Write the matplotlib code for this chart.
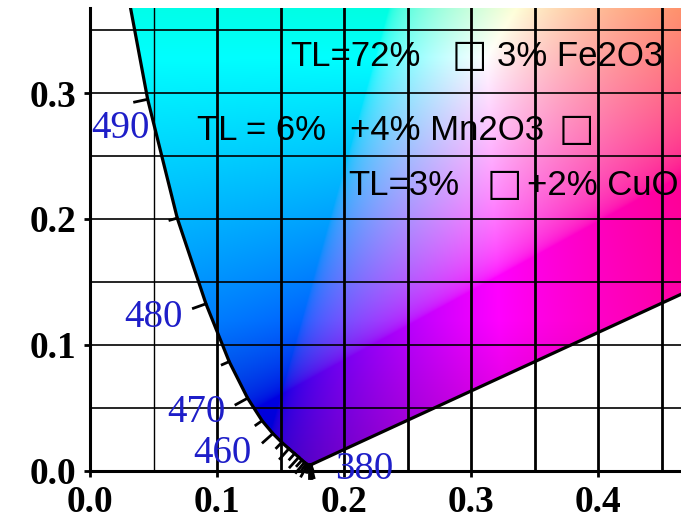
import numpy as np
import matplotlib
matplotlib.use('Agg')
import matplotlib.pyplot as plt
from matplotlib.patches import Polygon

# -----------------------------
# CIE 1931 spectral locus (x, y) read for the visible part of the chart
wavelengths = [380, 385, 390, 395, 400, 405, 410, 415, 420, 425, 430, 435,
               440, 445, 450, 455, 460, 465, 470, 475, 480, 485, 490, 495, 500]
locus_x = [0.1741, 0.1740, 0.1738, 0.1736, 0.1733, 0.1730, 0.1726, 0.1721,
           0.1714, 0.1703, 0.1689, 0.1669, 0.1644, 0.1611, 0.1566, 0.1510,
           0.1440, 0.1355, 0.1241, 0.1096, 0.0913, 0.0687, 0.0454, 0.0235, 0.0082]
locus_y = [0.0050, 0.0050, 0.0049, 0.0049, 0.0048, 0.0048, 0.0048, 0.0048,
           0.0051, 0.0058, 0.0069, 0.0086, 0.0109, 0.0138, 0.0177, 0.0227,
           0.0297, 0.0399, 0.0578, 0.0868, 0.1327, 0.2007, 0.2950, 0.4127, 0.5384]

# rest of the locus (off the top of the chart, only closes the colour area)
upper_x = [0.0039, 0.0139, 0.0743, 0.1547, 0.2296, 0.3016, 0.3731, 0.4441,
           0.5125, 0.5752, 0.6270, 0.6915, 0.7260, 0.7347]
upper_y = [0.6548, 0.7502, 0.8338, 0.8059, 0.7543, 0.6923, 0.6245, 0.5547,
           0.4866, 0.4242, 0.3725, 0.3083, 0.2740, 0.2653]

labelled_nm = [490, 480, 470, 460, 380]
label_pos = [(0.024, 0.264), (0.050, 0.114), (0.084, 0.039), (0.104, 0.006), (0.216, -0.006)]

x_ticks = [0.0, 0.1, 0.2, 0.3, 0.4]
y_ticks = [0.0, 0.1, 0.2, 0.3]

# annotation pieces: (text, x, y)
notes = [("TL=72%", 0.1575, 0.3214), ("3% Fe2O3", 0.3205, 0.3214),
         ("TL = 6%", 0.0843, 0.2627), ("+4% Mn2O3", 0.2047, 0.2627),
         ("TL=3%", 0.2031, 0.2190), ("+2% CuO", 0.3440, 0.2190)]
boxes = [(0.2984, 0.3214), (0.3827, 0.2627), (0.3260, 0.2190)]

# -----------------------------
fig = plt.figure(figsize=(6.81, 5.25), dpi=100)
ax = fig.add_axes([90/681, 54/525, 591/681, 463/525])
x_max = 591 / 1270
y_max = 463 / 1260
ax.set_xlim(0, x_max)
ax.set_ylim(0, y_max)

# colour fill of the chromaticity area
gx, gy = np.meshgrid(np.linspace(0, x_max, 600), np.linspace(0, y_max, 480))
gys = np.maximum(gy, 1e-3)
XYZ = np.stack([gx / gys, np.ones_like(gx), (1 - gx - gy) / gys], axis=-1)
M = np.array([[3.2406, -1.5372, -0.4986],
              [-0.9689, 1.8758, 0.0415],
              [0.0557, -0.2040, 1.0570]])
rgb = np.clip(XYZ @ M.T, 0, None)
rgb = rgb / rgb.max(axis=-1, keepdims=True)
rgb = np.where(rgb <= 0.0031308, 12.92 * rgb, 1.055 * rgb ** (1 / 2.4) - 0.055)
# the original gets darker towards the blue/violet bottom
shade = 0.78 + 0.22 * np.clip(gy / 0.12, 0, 1)
rgb = np.clip(rgb * shade[..., None], 0, 1)

poly_x = locus_x + upper_x
poly_y = locus_y + upper_y
clip = Polygon(np.column_stack([poly_x, poly_y]), closed=True, transform=ax.transData,
               facecolor='none', edgecolor='none')
ax.add_patch(clip)
im = ax.imshow(rgb, origin='lower', extent=[0, x_max, 0, y_max], aspect='auto',
               interpolation='bilinear', zorder=0)
im.set_clip_path(clip)

# grid every 0.05
for gxv in np.arange(0.05, x_max, 0.05):
    ax.axvline(gxv, color='black', lw=2.0 if abs(gxv - 0.05) > 1e-6 else 1.0, zorder=2)
for gyv in np.arange(0.05, y_max, 0.05):
    ax.axhline(gyv, color='black', lw=1.2, zorder=2)

# locus and purple line
ax.plot(locus_x + upper_x, locus_y + upper_y, color='black', lw=2.3, zorder=3,
        solid_capstyle='round')
ax.plot([locus_x[0], upper_x[-1]], [locus_y[0], upper_y[-1]], color='black', lw=2.3, zorder=3)

# wavelength ticks, perpendicular to the locus, pointing outward
lx = np.array(locus_x)
ly = np.array(locus_y)
tx = np.gradient(lx)
ty = np.gradient(ly)
n = np.hypot(tx, ty)
nx, ny = -ty / n, tx / n
for i, w in enumerate(wavelengths):
    if w > 490:
        continue
    L = 0.0105 if w % 10 == 0 else 0.0060
    ax.plot([lx[i], lx[i] + L * nx[i]], [ly[i], ly[i] + L * ny[i]],
            color='black', lw=2.0, zorder=3, clip_on=False)

for w, (px, py) in zip(labelled_nm, label_pos):
    ax.text(px, py, str(w), color='#1e1ec8', fontsize=28, family='Liberation Serif',
            ha='center', va='baseline', zorder=4, clip_on=False)

for s, px, py in notes:
    ax.text(px, py, s, fontsize=25, family=['Liberation Sans', 'DejaVu Sans'],
            ha='left', va='baseline', zorder=5)
for px, py in boxes:
    ax.text(px, py, "\u25a1", fontsize=27, family='DejaVu Sans', fontweight='bold',
            ha='center', va='baseline', zorder=5)

# axes styling
for side in ['top', 'right']:
    ax.spines[side].set_visible(False)
for side in ['left', 'bottom']:
    ax.spines[side].set_linewidth(2.2)
ax.set_xticks(x_ticks)
ax.set_yticks(y_ticks)
ax.set_xticklabels([f"{v:.1f}" for v in x_ticks])
ax.set_yticklabels([f"{v:.1f}" for v in y_ticks])
ax.tick_params(direction='out', length=4, width=2, pad=6)
for lab in ax.get_xticklabels() + ax.get_yticklabels():
    lab.set_family('Liberation Serif')
    lab.set_fontweight('bold')
    lab.set_fontsize(27)

fig.savefig('out.png', dpi=100)
